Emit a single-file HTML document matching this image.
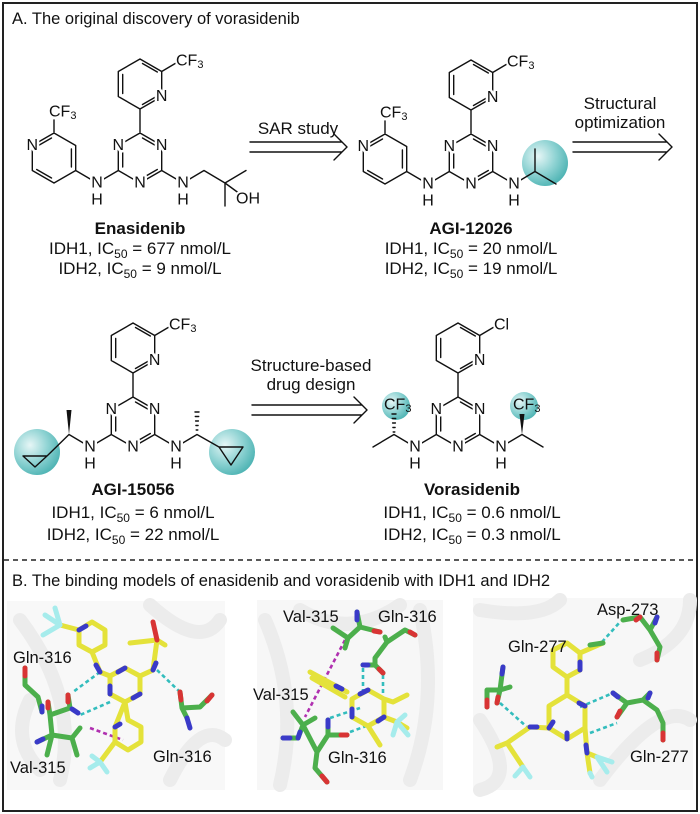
<!DOCTYPE html>
<html><head><meta charset="utf-8"><style>
html,body{margin:0;padding:0;background:#fff;}
svg{display:block;font-family:"Liberation Sans",Arial,sans-serif;}
.b{stroke:#111;stroke-width:1.4;fill:none;stroke-linecap:round;stroke-linejoin:round}
.l{font-size:16px;fill:#111;text-anchor:middle;dominant-baseline:central;paint-order:stroke;stroke:#fff;stroke-width:5px;stroke-linejoin:round}
.ls{font-size:16px;fill:#111;text-anchor:start;dominant-baseline:central;paint-order:stroke;stroke:#fff;stroke-width:4px}
.t{font-size:17px;fill:#111;text-anchor:middle}
.tb{font-size:17px;fill:#111;text-anchor:middle;font-weight:bold}
.rl{font-size:16.5px;fill:#111}
.Y{stroke:#e4e23a;stroke-width:5;fill:none;stroke-linecap:round;stroke-linejoin:round}
.G{stroke:#4caf4c;stroke-width:5;fill:none;stroke-linecap:round;stroke-linejoin:round}
.Bl{stroke:#3a3ac8;stroke-width:5;fill:none;stroke-linecap:round}
.R{stroke:#d83434;stroke-width:5;fill:none;stroke-linecap:round}
.C{stroke:#a6ecec;stroke-width:5;fill:none;stroke-linecap:round}
.dc{stroke:#33bdbd;stroke-width:2.6;stroke-dasharray:4 3;fill:none}
.dm{stroke:#b030b0;stroke-width:2.6;stroke-dasharray:4 3;fill:none}
.rib{stroke:#ececec;stroke-width:14;fill:none;stroke-linecap:round}
</style></head><body>
<svg width="700" height="814" viewBox="0 0 700 814">
<defs>
<radialGradient id="tg" cx="0.35" cy="0.35" r="0.7"><stop offset="0" stop-color="#e6f6f6"/><stop offset="0.55" stop-color="#8fd3d3"/><stop offset="1" stop-color="#4fb4b4"/></radialGradient>
</defs>
<rect x="3" y="3" width="694" height="808" fill="#fff" stroke="#222" stroke-width="2"/>
<text x="12" y="24" class="rl" style="font-size:16.5px">A. The original discovery of vorasidenib</text>

<!-- Enasidenib -->
<g transform="translate(140,158)">
<path class="b" d="M0,-25 L21.7,-12.5 L21.7,12.5 L0,25 L-21.7,12.5 L-21.7,-12.5Z M2.5,-20 L17.3,-11.5 M-17.3,-9 L-17.3,9 M2.5,20 L17.3,11.5 M0,-25 L0,-49 M0,-49 L21.7,-61.5 L21.7,-86.5 L0,-99 L-21.7,-86.5 L-21.7,-61.5Z M2.5,-53.5 L17.3,-62 M-17.3,-64.5 L-17.3,-83.5 M2.5,-94.5 L17.3,-86 M21.7,-86.5 L36,-95 M-21.7,12.5 L-43,25 M21.7,12.5 L43,25 M-43,25 L-64.3,12.5 M-86,-25 L-64.3,-12.5 L-64.3,12.5 L-86,25 L-107.7,12.5 L-107.7,-12.5Z M-68.6,-9 L-68.6,9 M-88.5,20 L-103.3,11.5 M-103.3,-11.5 L-88.5,-20 M-86,-25 L-86,-38 M43,25 L64,12.5 L85,25 L106,12.5 M85,25 L85,48 M85,25 L100,36"/>
<text class="l" x="-21.7" y="-12.5">N</text><text class="l" x="21.7" y="-12.5">N</text><text class="l" x="0" y="25">N</text><text class="l" x="21.7" y="-61.5">N</text>
<text class="l" x="-107.7" y="-12.5">N</text>
<text class="l" x="-43" y="25">N</text><text class="l" x="-43" y="42">H</text><text class="l" x="43" y="25">N</text><text class="l" x="43" y="42">H</text>
<text class="ls" x="36" y="-97">CF<tspan font-size="11" dy="4">3</tspan></text>
<text class="ls" x="-91" y="-46">CF<tspan font-size="11" dy="4">3</tspan></text>
<text class="ls" x="96" y="41">OH</text>
</g>
<text x="140" y="234" class="tb">Enasidenib</text>
<text x="140" y="254" class="t">IDH1, IC<tspan font-size="12" dy="4">50</tspan><tspan dy="-4"> = 677 nmol/L</tspan></text>
<text x="140" y="274" class="t">IDH2, IC<tspan font-size="12" dy="4">50</tspan><tspan dy="-4"> = 9 nmol/L</tspan></text>

<!-- SAR arrow -->
<text x="298" y="134" class="t">SAR study</text>
<path class="b" d="M250,142 L342,142 M250,152 L342,152 M334,134 L347,147 L334,160"/>

<!-- AGI-12026 -->
<circle cx="545" cy="163" r="23" fill="url(#tg)"/>
<g transform="translate(471,159)">
<path class="b" d="M0,-25 L21.7,-12.5 L21.7,12.5 L0,25 L-21.7,12.5 L-21.7,-12.5Z M2.5,-20 L17.3,-11.5 M-17.3,-9 L-17.3,9 M2.5,20 L17.3,11.5 M0,-25 L0,-49 M0,-49 L21.7,-61.5 L21.7,-86.5 L0,-99 L-21.7,-86.5 L-21.7,-61.5Z M2.5,-53.5 L17.3,-62 M-17.3,-64.5 L-17.3,-83.5 M2.5,-94.5 L17.3,-86 M21.7,-86.5 L36,-95 M-21.7,12.5 L-43,25 M21.7,12.5 L43,25 M-43,25 L-64.3,12.5 M-86,-25 L-64.3,-12.5 L-64.3,12.5 L-86,25 L-107.7,12.5 L-107.7,-12.5Z M-68.6,-9 L-68.6,9 M-88.5,20 L-103.3,11.5 M-103.3,-11.5 L-88.5,-20 M-86,-25 L-86,-38 M43,25 L64,12.5 L64,-10 M64,12.5 L85,25"/>
<text class="l" x="-21.7" y="-12.5">N</text><text class="l" x="21.7" y="-12.5">N</text><text class="l" x="0" y="25">N</text><text class="l" x="21.7" y="-61.5">N</text>
<text class="l" x="-107.7" y="-12.5">N</text>
<text class="l" x="-43" y="25">N</text><text class="l" x="-43" y="42">H</text><text class="l" x="43" y="25">N</text><text class="l" x="43" y="42">H</text>
<text class="ls" x="36" y="-97">CF<tspan font-size="11" dy="4">3</tspan></text>
<text class="ls" x="-91" y="-46">CF<tspan font-size="11" dy="4">3</tspan></text>
</g>
<text x="471" y="234" class="tb">AGI-12026</text>
<text x="471" y="254" class="t">IDH1, IC<tspan font-size="12" dy="4">50</tspan><tspan dy="-4"> = 20 nmol/L</tspan></text>
<text x="471" y="274" class="t">IDH2, IC<tspan font-size="12" dy="4">50</tspan><tspan dy="-4"> = 19 nmol/L</tspan></text>

<!-- Structural optimization arrow -->
<text x="620" y="109" class="t">Structural</text>
<text x="620" y="128" class="t">optimization</text>
<path class="b" d="M573,142 L667,142 M573,152 L667,152 M659,134 L672,147 L659,160"/>

<!-- AGI-15056 -->
<circle cx="37" cy="452" r="23" fill="url(#tg)"/>
<circle cx="232" cy="452" r="23" fill="url(#tg)"/>
<g transform="translate(133,422)">
<path class="b" d="M0,-25 L21.7,-12.5 L21.7,12.5 L0,25 L-21.7,12.5 L-21.7,-12.5Z M2.5,-20 L17.3,-11.5 M-17.3,-9 L-17.3,9 M2.5,20 L17.3,11.5 M0,-25 L0,-49 M0,-49 L21.7,-61.5 L21.7,-86.5 L0,-99 L-21.7,-86.5 L-21.7,-61.5Z M2.5,-53.5 L17.3,-62 M-17.3,-64.5 L-17.3,-83.5 M2.5,-94.5 L17.3,-86 M21.7,-86.5 L36,-95 M-21.7,12.5 L-43,25 M21.7,12.5 L43,25 M-43,25 L-64,12.5 L-86,34 M-86,34 L-110,34 L-98,45Z M43,25 L64,12.5 L86,25 M86,25 L110,25 L98,43Z"/>
<path d="M-64,12.5 L-66.5,-12 L-61.5,-12Z" fill="#111"/>
<path class="b" stroke-width="1.2" d="M62,-10 L66,-10 M62.3,-5.5 L65.7,-5.5 M62.6,-1 L65.4,-1 M62.9,3.5 L65.1,3.5 M63.2,8 L64.8,8"/>
<text class="l" x="-21.7" y="-12.5">N</text><text class="l" x="21.7" y="-12.5">N</text><text class="l" x="0" y="25">N</text><text class="l" x="21.7" y="-61.5">N</text>
<text class="l" x="-43" y="25">N</text><text class="l" x="-43" y="42">H</text><text class="l" x="43" y="25">N</text><text class="l" x="43" y="42">H</text>
<text class="ls" x="36" y="-97">CF<tspan font-size="11" dy="4">3</tspan></text>
</g>
<text x="133" y="495" class="tb">AGI-15056</text>
<text x="133" y="518" class="t">IDH1, IC<tspan font-size="12" dy="4">50</tspan><tspan dy="-4"> = 6 nmol/L</tspan></text>
<text x="133" y="540" class="t">IDH2, IC<tspan font-size="12" dy="4">50</tspan><tspan dy="-4"> = 22 nmol/L</tspan></text>

<!-- SBDD arrow -->
<text x="311" y="371" class="t">Structure-based</text>
<text x="311" y="390" class="t">drug design</text>
<path class="b" d="M252,405 L362,405 M252,415 L362,415 M354,397 L367,410 L354,423"/>

<!-- Vorasidenib -->
<circle cx="396" cy="406" r="14" fill="url(#tg)"/>
<circle cx="524" cy="406" r="14" fill="url(#tg)"/>
<g transform="translate(458,422)">
<path class="b" d="M0,-25 L21.7,-12.5 L21.7,12.5 L0,25 L-21.7,12.5 L-21.7,-12.5Z M2.5,-20 L17.3,-11.5 M-17.3,-9 L-17.3,9 M2.5,20 L17.3,11.5 M0,-25 L0,-49 M0,-49 L21.7,-61.5 L21.7,-86.5 L0,-99 L-21.7,-86.5 L-21.7,-61.5Z M2.5,-53.5 L17.3,-62 M-17.3,-64.5 L-17.3,-83.5 M2.5,-94.5 L17.3,-86 M21.7,-86.5 L36,-95 M-21.7,12.5 L-43,25 M21.7,12.5 L43,25 M-43,25 L-64,12.5 L-85,25 M43,25 L64,12.5 L85,25"/>
<path d="M64,12.5 L61.5,-8 L66.5,-8Z" fill="#111"/>
<path class="b" stroke-width="1.2" d="M-66,-8 L-62,-8 M-65.7,-3.5 L-62.3,-3.5 M-65.4,1 L-62.6,1 M-65.1,5.5 L-62.9,5.5 M-64.8,10 L-63.2,10"/>
<text class="l" x="-21.7" y="-12.5">N</text><text class="l" x="21.7" y="-12.5">N</text><text class="l" x="0" y="25">N</text><text class="l" x="21.7" y="-61.5">N</text>
<text class="l" x="-43" y="25">N</text><text class="l" x="-43" y="42">H</text><text class="l" x="43" y="25">N</text><text class="l" x="43" y="42">H</text>
<text class="ls" x="36" y="-97">Cl</text>
<text class="ls" x="-74" y="-17" style="stroke:none">CF<tspan font-size="11" dy="4">3</tspan></text>
<text class="ls" x="55" y="-17" style="stroke:none">CF<tspan font-size="11" dy="4">3</tspan></text>
</g>
<text x="472" y="495" class="tb">Vorasidenib</text>
<text x="472" y="518" class="t">IDH1, IC<tspan font-size="12" dy="4">50</tspan><tspan dy="-4"> = 0.6 nmol/L</tspan></text>
<text x="472" y="540" class="t">IDH2, IC<tspan font-size="12" dy="4">50</tspan><tspan dy="-4"> = 0.3 nmol/L</tspan></text>

<!-- separator -->
<line x1="4" y1="560" x2="696" y2="560" stroke="#222" stroke-width="1.6" stroke-dasharray="5 4"/>
<text x="12" y="586" class="rl">B. The binding models of enasidenib and vorasidenib with IDH1 and IDH2</text>

<!-- panel backgrounds -->
<rect x="7" y="601" width="218" height="189" fill="#f8f8f8"/>
<rect x="257" y="600" width="186" height="190" fill="#f7f7f7"/>
<rect x="473" y="598" width="220" height="192" fill="#f7f7f7"/>
<g>
<path class="rib" d="M20,620 Q80,700 60,780 M150,605 Q200,650 220,620 M170,780 Q200,720 225,740 M30,700 Q10,740 40,770"/>
<path class="rib" d="M265,620 Q300,700 280,785 M420,610 Q440,700 410,780 M300,610 Q350,640 400,605"/>
<path class="rib" d="M480,610 Q540,620 560,600 M600,780 Q660,700 690,720 M480,720 Q520,780 480,790 M640,660 Q690,640 690,600"/>
</g>

<!-- left panel sticks -->
<g>
<path class="dc" d="M100,672 L73,692 M110,702 L80,715 M157,670 L180,692"/>
<path class="dm" d="M90,728 L123,740"/>
<path class="G" d="M25,668 L25,685 L38,697 L42,712 M48,702 L50,715 L70,708 L68,695 M50,715 L52,735 L37,742 M52,735 L72,738 L80,728 M72,738 L77,755 M52,735 L47,755"/>
<path class="R" d="M25,668 L25,676 M68,695 L68,702 M48,702 L48,708"/>
<path class="Bl" d="M42,712 L42,706 M78,713 L72,709 M37,742 L43,739"/>
<path class="G" d="M180,692 L182,708 L200,707 L212,695 M182,708 L187,718"/>
<path class="R" d="M180,692 L181,700 M212,695 L207,701"/>
<path class="Bl" d="M187,718 L190,728"/>
<path class="Y" d="M92,622 L105,630 L105,645 L92,652 L79,645 L79,630 Z M79,630 L60,625 M92,652 L100,672 L110,676 M125,668 L140,676 L140,694 L125,702 L110,694 L110,676 Z M140,676 L153,670 L157,640 M157,640 L130,643 M157,640 L165,645 M125,702 L128,720 L141,727 L141,742 L128,750 L115,742 L115,727 Z M115,742 L100,762"/>
<path class="Bl" d="M79,630 L86,626 M100,672 L96,665 M125,668 L118,672 M140,694 L133,698 M110,694 L110,686 M153,670 L156,663 M115,727 L120,724"/>
<path class="R" d="M157,640 L153,622"/>
<path class="C" d="M60,625 L45,615 M60,625 L43,635 M60,625 L55,608 M100,762 L90,768 M100,762 L107,772 M100,762 L92,756"/>
<text x="13" y="663" class="rl">Gln-316</text>
<text x="10" y="773" class="rl">Val-315</text>
<text x="153" y="762" class="rl">Gln-316</text>
</g>

<!-- middle panel -->
<g>
<path class="dc" d="M363,668 L363,695 M383,675 L383,695 M330,718 L360,708 M350,732 L377,722"/>
<path class="dm" d="M345,640 L305,717"/>
<path class="G" d="M333,628 L348,638 L360,627 L357,612 M360,627 L380,632 M348,638 L345,648 M385,637 L387,642 L405,630 L415,635 M387,642 L375,658 L375,665 L363,665 M375,665 L383,673"/>
<path class="Bl" d="M357,612 L357,620 M363,665 L368,665"/>
<path class="R" d="M380,632 L374,631 M415,635 L410,632 M383,673 L379,669"/>
<path class="G" d="M293,712 L303,725 L315,718 M303,725 L298,738 L283,738 M303,725 L317,752 L315,768 L327,782 M317,752 L328,735 L347,735 M328,735 L328,720"/>
<path class="Bl" d="M283,738 L290,738 M328,720 L328,727 M298,738 L300,732"/>
<path class="R" d="M327,782 L322,776 M347,735 L341,735"/>
<path class="Y" d="M310,672 L347,692 M312,678 L345,697 M368,690 L384,699 L384,717 L368,726 L352,717 L352,699 Z M384,699 L393,702 L407,695 M384,717 L397,722 L407,728 M368,726 L380,745"/>
<path class="Bl" d="M368,690 L360,694 M384,717 L378,721 M352,717 L352,709 M336,686 L342,689"/>
<path class="C" d="M397,722 L405,715 M397,722 L408,735 M397,722 L393,735"/>
<text x="283" y="622" class="rl">Val-315</text>
<text x="378" y="622" class="rl">Gln-316</text>
<text x="253" y="700" class="rl">Val-315</text>
<text x="328" y="763" class="rl">Gln-316</text>
</g>

<!-- right panel -->
<g>
<path class="dc" d="M602,642 L620,622 M500,703 L527,727 M580,707 L613,693 M590,733 L617,723"/>
<path class="G" d="M623,620 L640,617 L650,630 L657,617 M650,630 L660,647 L657,660 M613,693 L627,703 L643,700 L650,693 M643,700 L657,710 L663,723 L663,740 M627,703 L617,717 M503,667 L500,690 L487,690 L487,707 M500,690 L497,703 M500,690 L510,687"/>
<path class="R" d="M640,617 L636,620 M657,660 L657,653 M663,740 L663,733 M617,717 L620,711 M487,707 L487,700 M497,703 L498,697"/>
<path class="Bl" d="M657,617 L655,623 M613,693 L618,697 M650,693 L648,698 M503,667 L502,674"/>
<path class="Y" d="M553,650 L567,643 L580,653 L580,670 L567,677 L553,667 Z M580,653 L603,643 M567,677 L567,695 M567,695 L585,706 L585,728 L567,739 L549,728 L549,706 Z M549,728 L530,727 L507,743 L497,747 M507,743 L523,767 M585,728 L587,753 L597,757 M587,753 L590,773"/>
<path class="G" d="M590,645 L603,643"/>
<path class="Bl" d="M580,670 L580,662 M585,706 L579,703 M549,728 L553,722 M567,739 L567,733 M530,727 L537,727 M587,753 L586,745"/>
<path class="C" d="M523,767 L515,776 M523,767 L530,777 M597,757 L612,762 M597,757 L607,772 M590,773 L592,777"/>
<text x="597" y="615" class="rl">Asp-273</text>
<text x="508" y="652" class="rl">Gln-277</text>
<text x="630" y="762" class="rl">Gln-277</text>
</g>
</svg>
</body></html>
